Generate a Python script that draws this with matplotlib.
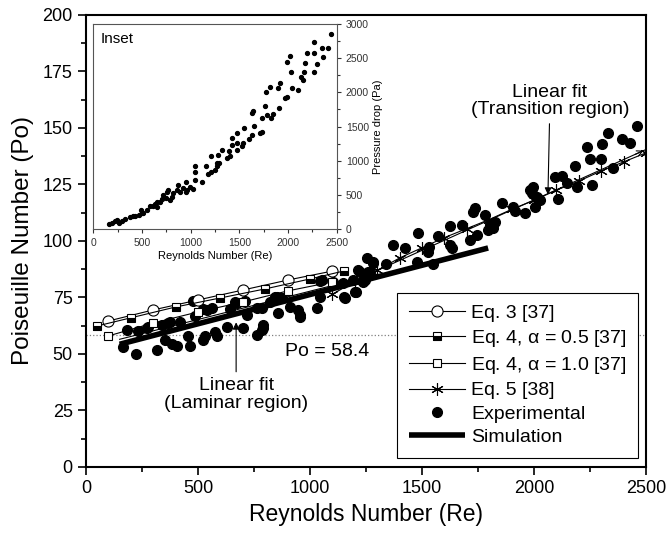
import matplotlib
matplotlib.use("Agg")
import matplotlib.pyplot as plt

plt.rcParams['font.family'] = ['Liberation Sans', 'DejaVu Sans']

# experimental points (main plot)
exp_re = [164, 223, 182, 232, 271, 315, 353, 382, 406, 366, 420, 464, 455, 487, 478,
          522, 531, 522, 562, 576, 583, 628, 643, 665, 701, 710, 717, 762, 784, 790,
          784, 851, 857, 911, 955, 946, 1030, 1045, 1045, 1156, 1201, 1214, 1253, 1281,
          1259, 1147, 1103, 1237, 821, 874, 790, 762, 844, 955, 277, 339, 375, 540, 674,
          1371, 1424, 1483, 1283, 1339, 1223, 1268, 1205, 1246, 1192, 1152, 1052,
          1476, 1549, 1527, 1531, 1571, 1625, 1625, 1633, 1677, 1714, 1744, 1728, 1737,
          1781, 1804, 1817, 1795, 1826, 1856, 1906, 1915, 1960, 1982, 1997, 1990, 2004,
          2012, 2027, 2460, 2331, 2391, 2429, 2302, 2235, 2250, 2298, 2183, 2353, 2094,
          2124, 2146, 2190, 2257, 2108]
exp_po = [53.2, 50.0, 60.6, 60.2, 61.5, 51.8, 56.2, 54.4, 53.5, 63.7, 64.2, 53.5, 58.0, 66.8, 73.6,
          69.9, 58.0, 56.2, 70.4, 59.7, 58.0, 61.9, 69.9, 73.0, 61.5, 73.6, 67.3, 58.4, 60.6, 62.8,
          70.4, 75.2, 68.1, 70.8, 67.3, 69.5, 70.4, 75.2, 82.4, 74.8, 77.6, 87.2, 92.5, 90.8,
          86.4, 81.4, 82.0, 82.0, 73.1, 74.8, 61.5, 70.4, 75.4, 66.5, 62.0, 62.8, 64.2, 69.5, 72.6,
          98.2, 96.9, 103.7, 90.3, 89.8, 86.3, 86.3, 77.6, 82.7, 82.7, 75.4, 82.7,
          90.8, 89.8, 95.3, 97.5, 102.2, 106.6, 98.2, 96.9, 107.1, 100.4, 102.7, 113.0, 114.6,
          111.5, 107.1, 105.8, 104.9, 108.5, 116.9, 115.2, 113.4, 112.5, 122.6, 124.0, 121.2, 115.0,
          119.6, 118.0, 150.9, 147.8, 145.0, 143.5, 142.9, 141.5, 136.1, 136.1, 133.2, 132.2, 128.2,
          128.8, 125.5, 124.0, 124.8, 118.5]

eq3_re = [100, 300, 500, 700, 900, 1100]
eq3_po = [64.6, 69.5, 73.9, 78.3, 82.7, 86.7]

eq4a_re = [50, 200, 400, 600, 800, 1000, 1150]
eq4a_po = [62.4, 66.0, 70.8, 74.8, 78.8, 83.2, 86.7]

eq4b_re = [100, 300, 500, 700, 900, 1100]
eq4b_po = [58.0, 63.7, 68.6, 73.0, 77.9, 81.9]

eq5_re = [1100, 1200, 1300, 1400, 1500, 1600, 1700, 1800, 1900, 2000, 2100, 2200, 2300, 2400, 2500]
eq5_po = [76.5, 82, 87, 92.5, 97, 101.5, 105.5, 109.5, 114, 118, 122.5, 126.5, 131, 135, 139]

sim_re = [150, 1795]
sim_po = [54.3, 96.9]

lam_fit_re = [150, 1300]
lam_fit_po = [56.5, 85.3]
tr_fit_re = [1100, 2500]
tr_fit_po = [78.0, 140.5]

# inset: pressure drop vs Re
ins_re = [164, 188, 223, 240, 267, 291, 325, 377, 404, 428, 473, 497, 486, 514, 548, 582, 617,
          634, 658, 651, 685, 702, 719, 745, 760, 771, 788, 805, 822, 856, 873, 890, 925, 952,
          952, 966, 993, 1028, 1045, 1045, 1045, 1113, 1158, 1182, 1206, 1206, 1250, 1267,
          1274, 1277, 1295, 1318, 1376, 1397, 1404, 1421, 1421, 1473, 1473, 1473, 1524, 1534,
          1548, 1593, 1627, 1627, 1637, 1651, 1713, 1730, 1730, 1764, 1774, 1781, 1815, 1822,
          1849, 1894, 1911, 1918, 1969, 1986, 1993, 2014, 2031, 2038, 2106, 2130, 2151, 2158,
          2168, 2192, 2261, 2267, 2267, 2295, 2356, 2346, 2414, 2442]
ins_dp = [78, 97, 112, 136, 97, 122, 146, 175, 195, 185, 209, 234, 273, 243, 273, 331, 341,
          370, 390, 321, 404, 438, 502, 453, 536, 565, 428, 477, 526, 575, 648, 550, 599, 682,
          536, 575, 623, 584, 721, 828, 925, 696, 916, 808, 1062, 828, 867, 916,
          974, 1086, 964, 1159, 1037, 1135, 1062, 1232, 1330, 1159, 1256, 1403, 1218, 1266,
          1476, 1315, 1378, 1695, 1734, 1510, 1403, 1427, 1622, 1802, 2011, 1670, 2075, 1622,
          1685, 2060, 1768, 2143, 1914, 1938, 2450, 2532, 2303, 2060, 2036, 2221, 2182, 2303,
          2435, 2581, 2303, 2571, 2742, 2416, 2513, 2645, 2645, 2849]

fig = plt.figure(figsize=(6.67, 5.43), dpi=100)
ax = fig.add_axes([0.129, 0.140, 0.8396, 0.8324])

ax.axhline(58.4, color='gray', linestyle=':', linewidth=0.9, zorder=1)

ax.plot(lam_fit_re, lam_fit_po, color='black', linewidth=0.8, zorder=2)
ax.plot(tr_fit_re, tr_fit_po, color='black', linewidth=0.8, zorder=2)
ax.annotate('', xy=(2500, tr_fit_po[1]), xytext=(2440, tr_fit_po[1] - 2.7),
            arrowprops=dict(arrowstyle='->', color='black', lw=0.8), zorder=2)

ax.plot(eq3_re, eq3_po, color='black', linewidth=0.8, marker='o', markersize=8,
        markerfacecolor='white', markeredgecolor='black', markeredgewidth=0.8,
        label='Eq. 3 [37]', zorder=4)
ax.plot(eq4a_re, eq4a_po, color='black', linewidth=0.8, marker='s', markersize=6,
        fillstyle='bottom', markerfacecolor='black', markerfacecoloralt='white',
        markeredgecolor='black', markeredgewidth=0.8,
        label='Eq. 4, $\\mathregular{\\alpha}$ = 0.5 [37]', zorder=4)
ax.plot(eq4b_re, eq4b_po, color='black', linewidth=0.8, marker='s', markersize=6,
        markerfacecolor='white', markeredgecolor='black', markeredgewidth=0.8,
        label='Eq. 4, $\\mathregular{\\alpha}$ = 1.0 [37]', zorder=4)
ax.plot(eq5_re, eq5_po, color='black', linewidth=0.8, marker=(6, 2, 0), markersize=9,
        markeredgewidth=0.8, label='Eq. 5 [38]', zorder=4)
ax.plot(exp_re, exp_po, linestyle='none', marker='o', markersize=7, color='black',
        label='Experimental', zorder=3)
ax.plot(sim_re, sim_po, color='black', linewidth=4, solid_capstyle='butt',
        label='Simulation', zorder=5)

ax.text(1265, 51, 'Po = 58.4', fontsize=14, ha='right', va='center')
ax.annotate('Linear fit\n(Laminar region)', xy=(670, 64), xytext=(670, 32),
            fontsize=14, ha='center', va='center', linespacing=1.05,
            arrowprops=dict(arrowstyle='-|>', color='black', lw=0.8, mutation_scale=10,
                            shrinkA=2, shrinkB=0))
ax.annotate('Linear fit\n(Transition region)', xy=(2062, 120.5), xytext=(2071, 162),
            fontsize=14, ha='center', va='center', linespacing=1.05,
            arrowprops=dict(arrowstyle='-|>', color='black', lw=0.8, mutation_scale=10,
                            shrinkA=2, shrinkB=0))

ax.set_xlim(0, 2500)
ax.set_ylim(0, 200)
ax.set_xticks([0, 500, 1000, 1500, 2000, 2500])
ax.set_xticks(range(250, 2500, 500), minor=True)
ax.set_yticks(range(0, 201, 25))
ax.set_yticks([12.5 + 25 * i for i in range(8)], minor=True)
ax.tick_params(which='major', direction='out', length=6, width=1.2, labelsize=13)
ax.tick_params(which='minor', direction='out', length=3.5, width=1.2)
for s in ax.spines.values():
    s.set_linewidth(1.5)
ax.set_xlabel('Reynolds Number (Re)', fontsize=16.5)
ax.set_ylabel('Poiseuille Number (Po)', fontsize=17.5, labelpad=6)

leg = ax.legend(loc='lower right', bbox_to_anchor=(0.986, 0.02), fontsize=14,
                frameon=True, fancybox=False, edgecolor='black', framealpha=1,
                handlelength=2.9, labelspacing=0.3, borderpad=0.6, handletextpad=0.3,
                borderaxespad=0)
leg.get_frame().set_linewidth(0.8)

# inset
ins = fig.add_axes([0.140, 0.578, 0.365, 0.378])
ins.plot(ins_re, ins_dp, linestyle='none', marker='o', markersize=2.8, color='black')
ins.set_xlim(0, 2500)
ins.set_ylim(0, 3000)
ins.set_xticks([0, 500, 1000, 1500, 2000, 2500])
ins.set_xticks(range(250, 2500, 500), minor=True)
ins.set_yticks(range(0, 3001, 500))
ins.set_yticks(range(250, 3000, 500), minor=True)
ins.yaxis.tick_right()
ins.yaxis.set_label_position('right')
ins.tick_params(which='major', direction='out', length=3, width=0.8, labelsize=7.5,
                colors='#333333')
ins.tick_params(which='minor', direction='out', length=2, width=0.8, colors='#333333')
for s in ins.spines.values():
    s.set_linewidth(0.8)
    s.set_color('#555555')
ins.set_xlabel('Reynolds Number (Re)', fontsize=8, labelpad=2)
ins.set_ylabel('Pressure drop (Pa)', fontsize=8, labelpad=3)
ins.text(0.03, 0.96, 'Inset', transform=ins.transAxes, fontsize=11, va='top', ha='left')

fig.savefig('out.png', dpi=100)
